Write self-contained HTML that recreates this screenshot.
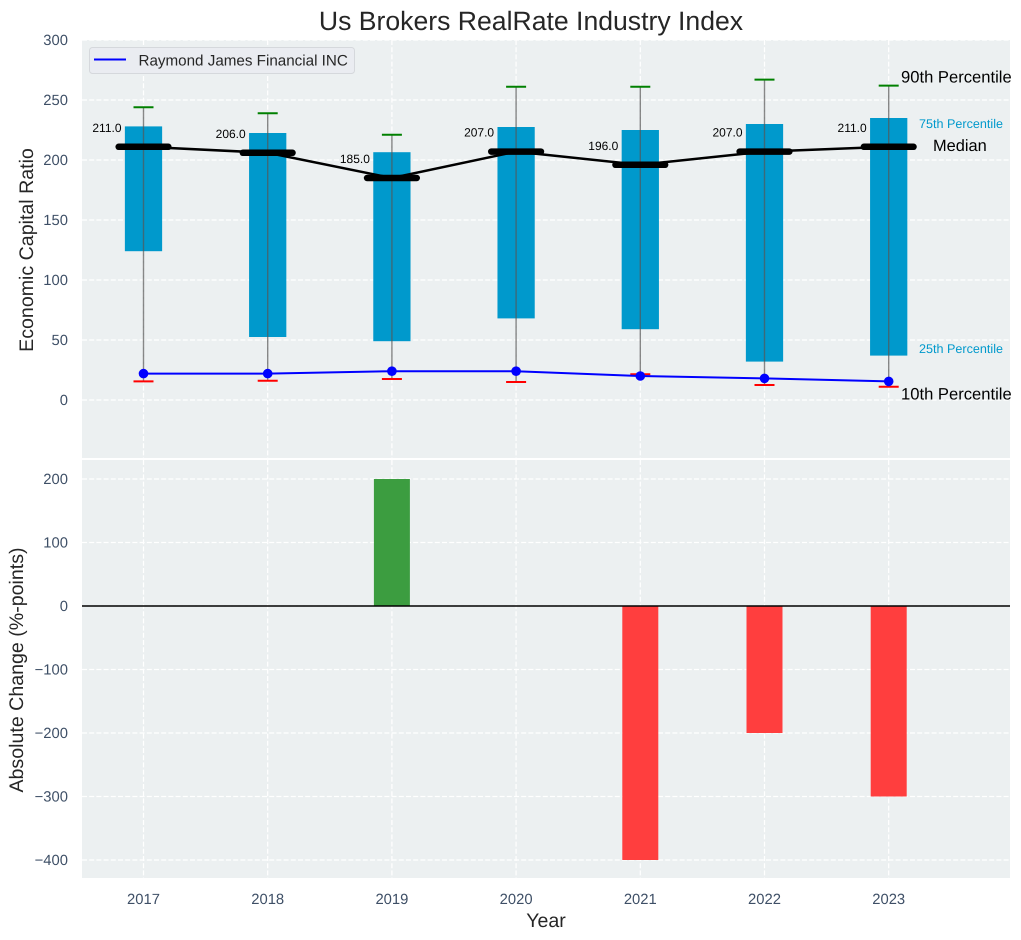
<!DOCTYPE html>
<html lang="en">
<head>
<meta charset="utf-8">
<title>Us Brokers RealRate Industry Index</title>
<style>
html,body{margin:0;padding:0;background:#fff;}
svg{display:block;font-family:"Liberation Sans",Arial,sans-serif;text-rendering:geometricPrecision;}
</style>
</head>
<body>
<svg id="chart" xmlns="http://www.w3.org/2000/svg" width="1021" height="940" viewBox="0 0 1021 940">
  <rect x="0" y="0" width="1021" height="940" fill="#ffffff"/>
  <rect x="82" y="40" width="928" height="418" fill="#ecf0f1"/>
  <rect x="82" y="460" width="928" height="418" fill="#ecf0f1"/>
  <g id="top-grid"></g>
  <g id="bottom-grid"></g>
  <g id="top-marks"></g>
  <g id="bottom-marks"></g>
  <g id="ticks"></g>
  <text x="531" y="30" font-size="26.6" text-anchor="middle" fill="#262626">Us Brokers RealRate Industry Index</text>
  <text transform="translate(33 250) rotate(-90)" font-size="19.6" text-anchor="middle" fill="#262626">Economic Capital Ratio</text>
  <text transform="translate(23 670) rotate(-90)" font-size="19.6" text-anchor="middle" fill="#262626">Absolute Change (%-points)</text>
  <text x="546" y="927" font-size="19.6" text-anchor="middle" fill="#262626">Year</text>
  <text x="901" y="82.5" font-size="16.6" fill="#000000">90th Percentile</text>
  <text x="919" y="128" font-size="12.6" fill="#0099cc">75th Percentile</text>
  <text x="933" y="151" font-size="16.4" fill="#000000">Median</text>
  <text x="919" y="353" font-size="12.6" fill="#0099cc">25th Percentile</text>
  <text x="901" y="399.5" font-size="16.6" fill="#000000">10th Percentile</text>
  <g>
    <rect x="89.5" y="47.5" width="265" height="26" rx="3" fill="#eaecf1" stroke="#d5d8dc" stroke-width="1"/>
    <line x1="94" y1="59.5" x2="126" y2="59.5" stroke="#0000ff" stroke-width="2"/>
    <text x="138.5" y="65.5" font-size="15.2" fill="#262626">Raymond James Financial INC</text>
  </g>
</svg>
<script>
const years = [2017, 2018, 2019, 2020, 2021, 2022, 2023];
const p90 = [244, 239, 221, 261, 261, 267, 262];
const p75 = [228, 222.5, 206.5, 227.5, 225, 230, 235];
const median = [211, 206, 185, 207, 196, 207, 211];
const p25 = [124, 52.5, 49, 68, 59, 32, 37];
const p10 = [15.5, 16, 17.5, 15, 21.5, 12.5, 11];
const company = [22, 22, 24, 24, 20, 18, 15.5];
const change = [0, 0, 200, 0, -400, -200, -300];
const topTicks = [0, 50, 100, 150, 200, 250, 300];
const bottomTicks = [-400, -300, -200, -100, 0, 100, 200];

const NS = 'http://www.w3.org/2000/svg';
const x = v => 143.5 + (v - 2017) * 124.2;
const yTop = v => 400 - v * 1.2;
const yBottom = v => 606 - v * 0.635;

function make(parent, tag, attrs, text) {
  const el = document.createElementNS(NS, tag);
  for (const k in attrs) el.setAttribute(k, attrs[k]);
  if (text !== undefined) el.textContent = text;
  parent.appendChild(el);
  return el;
}

const gridAttrs = {stroke: '#ffffff', 'stroke-width': 1.2, 'stroke-dasharray': '5 2.2'};
const topGrid = document.getElementById('top-grid');
const bottomGrid = document.getElementById('bottom-grid');
const tickLayer = document.getElementById('ticks');
const topMarks = document.getElementById('top-marks');
const bottomMarks = document.getElementById('bottom-marks');

topTicks.forEach(t => {
  const line = make(topGrid, 'line', Object.assign({x1: 82, x2: 1010, y1: yTop(t), y2: yTop(t)}, gridAttrs));
  
  
  const label = make(tickLayer, 'text', {x: 68, y: yTop(t) + 5, 'font-size': 14.8, 'text-anchor': 'end', fill: '#3e4f66'}, String(t));
  
  
});
bottomTicks.forEach(t => {
  const line = make(bottomGrid, 'line', Object.assign({x1: 82, x2: 1010, y1: yBottom(t), y2: yBottom(t)}, gridAttrs));
  
  
  const label = make(tickLayer, 'text', {x: 68, y: yBottom(t) + 5, 'font-size': 14.8, 'text-anchor': 'end', fill: '#3e4f66'}, String(t).replace('-', '\u2212'));
  
  
});
years.forEach(yr => {
  const a = make(topGrid, 'line', Object.assign({x1: x(yr), x2: x(yr), y1: 40, y2: 458}, gridAttrs));
  
  
  const b = make(bottomGrid, 'line', Object.assign({x1: x(yr), x2: x(yr), y1: 460, y2: 878}, gridAttrs));
  
  
  const label = make(tickLayer, 'text', {x: x(yr), y: 904, 'font-size': 14.8, 'text-anchor': 'middle', fill: '#3e4f66'}, String(yr));
  
  
});

const halfBox = 0.15 * 124.2;
const halfCap = 10;
const halfMedian = 0.2 * 124.2;

years.forEach((yr, i) => {
  const box = make(topMarks, 'rect', {x: x(yr) - halfBox, y: yTop(p75[i]), width: halfBox * 2, height: yTop(p25[i]) - yTop(p75[i]), fill: '#0099cc'});
  
  
});
years.forEach((yr, i) => {
  const whisker = make(topMarks, 'line', {x1: x(yr), x2: x(yr), y1: yTop(p90[i]), y2: yTop(p10[i]), stroke: '#555555', 'stroke-opacity': 0.7, 'stroke-width': 1.4});
  
  
  const hi = make(topMarks, 'line', {x1: x(yr) - halfCap, x2: x(yr) + halfCap, y1: yTop(p90[i]), y2: yTop(p90[i]), stroke: '#008000', 'stroke-width': 2});
  
  
  const lo = make(topMarks, 'line', {x1: x(yr) - halfCap, x2: x(yr) + halfCap, y1: yTop(p10[i]), y2: yTop(p10[i]), stroke: '#ff0000', 'stroke-width': 2});
  
  
});

const medianLine = make(topMarks, 'polyline', {points: years.map((yr, i) => x(yr) + ',' + yTop(median[i])).join(' '), fill: 'none', stroke: '#000000', 'stroke-width': 2.5});



years.forEach((yr, i) => {
  const bar = make(topMarks, 'line', {x1: x(yr) - halfMedian, x2: x(yr) + halfMedian, y1: yTop(median[i]), y2: yTop(median[i]), stroke: '#000000', 'stroke-width': 6.5, 'stroke-linecap': 'round'});
  
  
  const label = make(topMarks, 'text', {x: x(yr) - 22, y: yTop(median[i]) - 15, 'font-size': 12, 'text-anchor': 'end', fill: '#000000'}, median[i].toFixed(1));
  
  
});

const companyLine = make(topMarks, 'polyline', {points: years.map((yr, i) => x(yr) + ',' + yTop(company[i])).join(' '), fill: 'none', stroke: '#0000ff', 'stroke-width': 2});


years.forEach((yr, i) => {
  const dot = make(topMarks, 'circle', {cx: x(yr), cy: yTop(company[i]), r: 4.8, fill: '#0000ff'});
  
  
});

years.forEach((yr, i) => {
  if (change[i] === 0) return;
  const top = Math.min(yBottom(change[i]), yBottom(0));
  const h = Math.abs(yBottom(change[i]) - yBottom(0));
  const bar = make(bottomMarks, 'rect', {x: x(yr) - 18, y: top, width: 36, height: h, fill: change[i] > 0 ? '#3c9d40' : '#ff3e3e'});
  
  
});
const zero = make(bottomMarks, 'line', {x1: 82, x2: 1010, y1: yBottom(0), y2: yBottom(0), stroke: '#000000', 'stroke-width': 1.5});


</script>
</body>
</html>
